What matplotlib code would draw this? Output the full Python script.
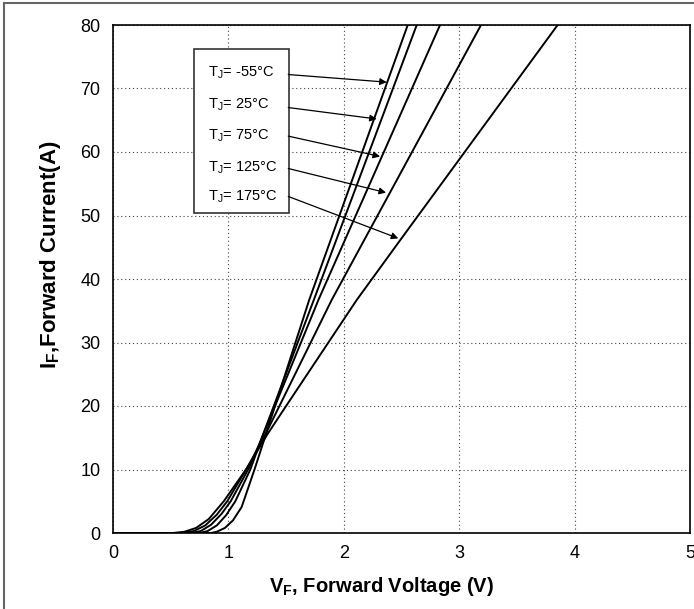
import matplotlib.pyplot as plt
from matplotlib.patches import Rectangle
from matplotlib.lines import Line2D

plt.rcParams['font.family'] = ['Liberation Sans', 'DejaVu Sans']

# forward characteristics, one (V, I) list per junction temperature
temps = ["-55", "25", "75", "125", "175"]

vf_m55 = [0, 0.85, 0.90, 0.97, 1.04, 1.115, 1.23, 1.70, 2.554]
if_m55 = [0, 0, 0.2, 0.8, 2.0, 4.1, 10.2, 36.7, 80]

vf_25 = [0, 0.75, 0.82, 0.90, 0.98, 1.06, 1.19, 1.30, 1.74, 2.632]
if_25 = [0, 0, 0.3, 1.2, 2.8, 5.0, 10.0, 15.5, 36.7, 80]

vf_75 = [0, 0.68, 0.76, 0.85, 0.94, 1.02, 1.18, 1.30, 1.78, 2.834]
if_75 = [0, 0, 0.3, 1.3, 3.0, 5.0, 10.3, 15.4, 36.7, 80]

vf_125 = [0, 0.60, 0.70, 0.80, 0.90, 0.99, 1.17, 1.32, 1.895, 3.189]
if_125 = [0, 0, 0.3, 1.2, 2.9, 5.0, 10.5, 15.5, 36.7, 80]

vf_175 = [0, 0.52, 0.62, 0.72, 0.83, 0.96, 1.16, 1.34, 1.50, 2.112, 2.50, 3.853]
if_175 = [0, 0, 0.2, 0.8, 2.2, 5.0, 10.2, 15.6, 20.0, 36.7, 46.4, 80]

curves = [(vf_m55, if_m55), (vf_25, if_25), (vf_75, if_75),
          (vf_125, if_125), (vf_175, if_175)]

# label rows and the point on each curve the arrow ends at
label_y = [72.5, 67.5, 62.6, 57.6, 52.9]
arrow_start = [72.2, 67.0, 62.5, 57.4, 53.0]
arrow_tip = [(2.372, 71.0), (2.285, 65.2), (2.314, 59.3), (2.366, 53.6), (2.472, 46.4)]

fig = plt.figure(figsize=(6.94, 6.09), dpi=100)

# outer frame of the figure
fig.add_artist(Line2D([4 / 694, 4 / 694], [0, 1 - 3 / 609], transform=fig.transFigure,
                      color='#666666', lw=1.5))
fig.add_artist(Line2D([4 / 694, 1], [1 - 3 / 609, 1 - 3 / 609], transform=fig.transFigure,
                      color='#666666', lw=1.5))

ax = fig.add_axes([113 / 694, 1 - 533 / 609, 577 / 694, 508 / 609])

for v, i in curves:
    ax.plot(v, i, color='black', lw=1.4, solid_joinstyle='round')

ax.set_xlim(0, 5)
ax.set_ylim(0, 80)
ax.set_xticks(range(0, 6))
ax.set_yticks(range(0, 81, 10))
ax.grid(True, color='#444444', linestyle=(0, (1, 2.5)), lw=0.8)
ax.tick_params(length=0, pad=9, labelsize=13)
for s in ax.spines.values():
    s.set_linewidth(1.2)

ax.set_xlabel(r"V$_\mathregular{F}$, Forward Voltage (V)", fontsize=14.5, fontweight='bold')
ax.xaxis.set_label_coords(0.466, -0.083)
ax.set_ylabel(r"I$_\mathregular{F}$,Forward Current(A)", fontsize=16, fontweight='bold')
ax.yaxis.set_label_coords(-0.086, 0.547)

# temperature legend box with arrows
ax.add_patch(Rectangle((0.702, 50.4), 0.825, 25.8, facecolor='white', edgecolor='#333333',
                       lw=1.2, zorder=3))
for t, ly, ay, tip in zip(temps, label_y, arrow_start, arrow_tip):
    ax.text(0.826, ly, r"T$_\mathregular{J}$= " + t + "°C", fontsize=10.5, va='center',
            ha='left', zorder=4)
    ax.annotate("", xy=tip, xytext=(1.519, ay),
                arrowprops=dict(arrowstyle='-|>', color='black', lw=0.9,
                                mutation_scale=10, shrinkA=0, shrinkB=0))

fig.savefig("out.png", dpi=100)
